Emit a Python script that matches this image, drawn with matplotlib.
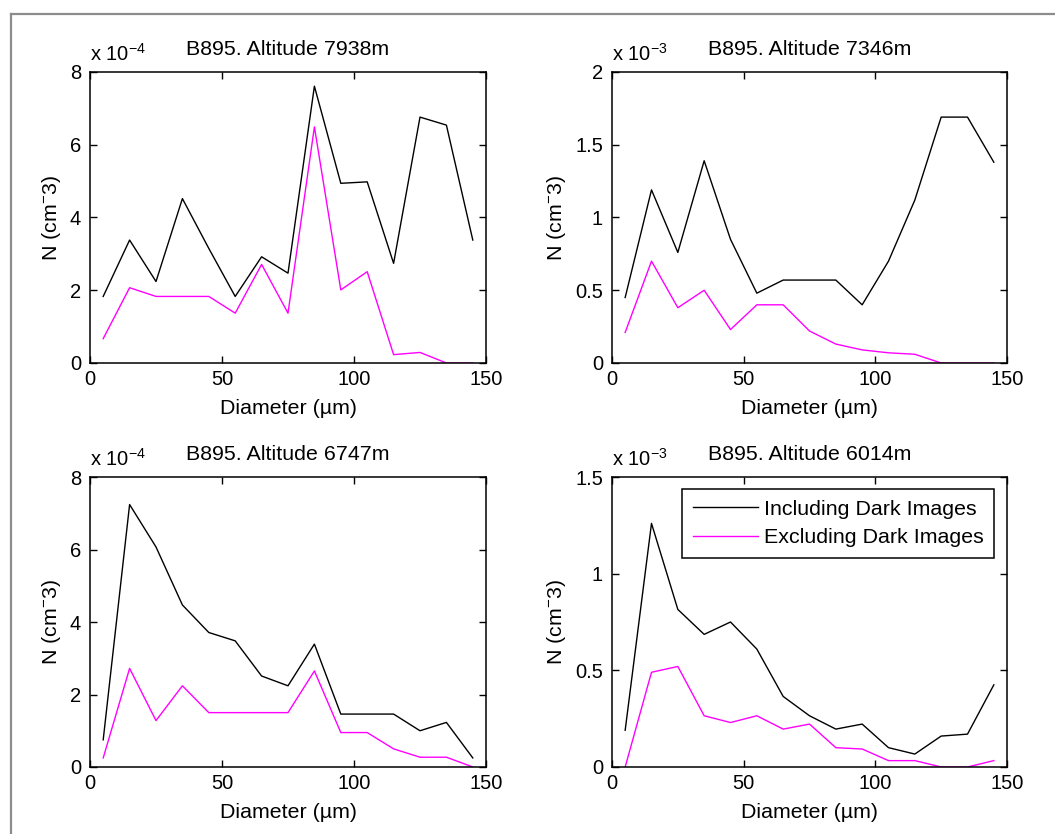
import numpy as np
import matplotlib
matplotlib.use("Agg")
import matplotlib.pyplot as plt
from matplotlib.lines import Line2D
from matplotlib.ticker import FuncFormatter

plt.rcParams['font.family'] = ['Liberation Sans', 'DejaVu Sans']
plt.rcParams['mathtext.fontset'] = 'custom'
plt.rcParams['mathtext.rm'] = 'Liberation Sans'
plt.rcParams['mathtext.it'] = 'Liberation Sans:italic'

# bin centres (um)
diameter = [5, 15, 25, 35, 45, 55, 65, 75, 85, 95, 105, 115, 125, 135, 145]

titles = ["B895. Altitude 7938m", "B895. Altitude 7346m",
          "B895. Altitude 6747m", "B895. Altitude 6014m"]
exponents = [-4, -3, -4, -3]

# concentrations, in units of 10^exponent cm^-3
incl_7938 = [1.83, 3.38, 2.24, 4.52, 3.15, 1.83, 2.92, 2.47, 7.61, 4.94, 4.98, 2.74, 6.76, 6.54, 3.38]
excl_7938 = [0.67, 2.07, 1.83, 1.83, 1.83, 1.37, 2.71, 1.37, 6.49, 2.01, 2.51, 0.23, 0.29, 0.0, 0.0]

incl_7346 = [0.45, 1.19, 0.76, 1.39, 0.85, 0.48, 0.57, 0.57, 0.57, 0.40, 0.70, 1.12, 1.69, 1.69, 1.38]
excl_7346 = [0.21, 0.70, 0.38, 0.50, 0.23, 0.40, 0.40, 0.22, 0.13, 0.09, 0.07, 0.06, 0.0, 0.0, 0.0]

incl_6747 = [0.75, 7.24, 6.07, 4.47, 3.71, 3.48, 2.51, 2.24, 3.39, 1.46, 1.46, 1.46, 1.00, 1.23, 0.25]
excl_6747 = [0.25, 2.72, 1.28, 2.24, 1.50, 1.50, 1.50, 1.50, 2.65, 0.95, 0.95, 0.50, 0.27, 0.27, 0.0]

incl_6014 = [0.19, 1.26, 0.815, 0.686, 0.75, 0.61, 0.365, 0.265, 0.196, 0.222, 0.10, 0.067, 0.16, 0.17, 0.425]
excl_6014 = [0.0, 0.49, 0.52, 0.265, 0.23, 0.265, 0.196, 0.222, 0.10, 0.093, 0.033, 0.033, 0.0, 0.0, 0.033]

including = [incl_7938, incl_7346, incl_6747, incl_6014]
excluding = [excl_7938, excl_7346, excl_6747, excl_6014]

ytop = [8, 2, 8, 1.5]
ystep = [2, 0.5, 2, 0.5]

W, H = 1055, 834
fig = plt.figure(figsize=(W / 100, H / 100), dpi=100)
fig.patch.set_facecolor('white')

# axes boxes in pixels: left, top, right, bottom
boxes = [(90, 72, 486, 363), (612, 72, 1007, 363),
         (90, 477, 486, 767), (612, 477, 1007, 767)]

fs_tick = 14.5
fs = 15.4
for i in range(4):
    l, t, r, b = boxes[i]
    ax = fig.add_axes([l / W, 1 - b / H, (r - l) / W, (b - t) / H])
    scale = 10.0 ** exponents[i]
    ax.plot(diameter, np.array(including[i]) * scale, color='black', lw=1.0,
            label='Including Dark Images')
    ax.plot(diameter, np.array(excluding[i]) * scale, color='#ff00ff', lw=1.0,
            label='Excluding Dark Images')

    ax.set_xlim(0, 150)
    ax.set_ylim(0, ytop[i] * scale)
    ax.set_xticks([0, 50, 100, 150])
    ax.set_yticks(np.arange(0, ytop[i] + ystep[i] / 2, ystep[i]) * scale)
    ax.yaxis.set_major_formatter(FuncFormatter(lambda v, p, s=scale: '%g' % round(v / s, 6)))
    ax.tick_params(direction='in', top=True, right=True, length=5, width=1.0,
                   labelsize=fs_tick)
    ax.tick_params(axis='y', pad=6.5)
    ax.tick_params(axis='x', pad=5)
    for sp in ax.spines.values():
        sp.set_linewidth(1.1)

    ax.set_title(titles[i], fontsize=fs, pad=12.5)
    ax.set_xlabel('Diameter (µm)', fontsize=fs, labelpad=7)
    ax.set_ylabel(r'N (cm$^{-}$3)', fontsize=fs, labelpad=5)
    ax.annotate(r'x 10$^{%d}$' % exponents[i], xy=(0, 1), xycoords='axes fraction',
                xytext=(0, 8), textcoords='offset points', fontsize=fs_tick,
                ha='left', va='baseline')

    if i == 3:
        leg = ax.legend(loc='upper right', bbox_to_anchor=(0.967, 0.959),
                        borderaxespad=0, fontsize=fs, fancybox=False,
                        edgecolor='black', framealpha=1, handlelength=3.05,
                        handletextpad=0.25, borderpad=0.5, labelspacing=0.45)
        leg.get_frame().set_linewidth(1.1)

# window frame lines along top and left
fig.add_artist(Line2D([11 / W, 1], [1 - 13.5 / H, 1 - 13.5 / H], color='#8c8c8c', lw=1.6))
fig.add_artist(Line2D([10.5 / W, 10.5 / W], [0, 1 - 13.5 / H], color='#8c8c8c', lw=1.6))

fig.savefig('out.png', dpi=100)
